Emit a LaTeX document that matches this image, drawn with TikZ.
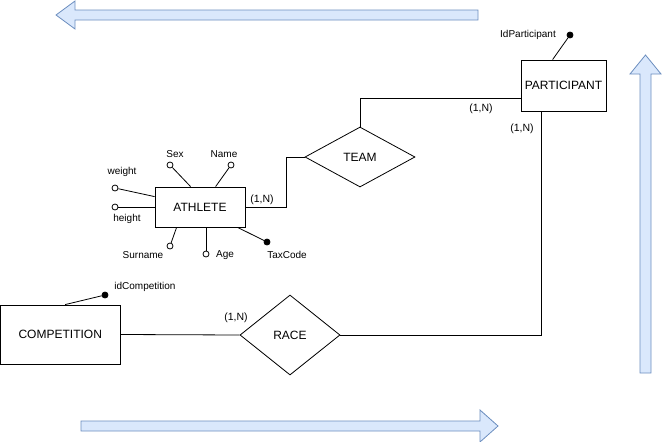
\documentclass[tikz,border=0pt]{standalone}
\usepackage{fontspec}
\setmainfont{Liberation Sans}
\usetikzlibrary{shapes.geometric, positioning}
\definecolor{arrowFill}{HTML}{DAE8FC}
\definecolor{arrowDraw}{HTML}{6C8EBF}
\tikzstyle{entNode} = [rectangle, draw=black, line width=0.8pt, fill=white, inner sep=0pt, font=\fontsize{12}{14}\selectfont, text centered]
\tikzstyle{relNode} = [diamond, aspect=1.6, draw=black, line width=0.8pt, fill=white, inner sep=0pt, font=\fontsize{12}{14}\selectfont]
\tikzstyle{attrDot} = [circle, draw=black, line width=0.8pt, fill=white, inner sep=0pt, minimum size=6pt]
\tikzstyle{keyDot} = [attrDot, fill=black]
\tikzstyle{attrText} = [font=\fontsize{10}{12}\selectfont, inner sep=0pt]
\tikzstyle{cardText} = [font=\fontsize{10.5}{12}\selectfont, inner sep=0pt]
\tikzstyle{link} = [line width=0.8pt, draw=black]
\tikzstyle{bigArrow} = [line width=0.8pt, draw=arrowDraw, fill=arrowFill]

\begin{document}
\begin{tikzpicture}[x=1pt, y=-1pt]
    \useasboundingbox (0,0) rectangle (662,442);

    % flow arrows
    \draw [bigArrow] (478,10) -- (75,10) -- (75,1) -- (56,15) -- (75,29) -- (75,20) -- (478,20) -- cycle;
    \draw [bigArrow] (640,373) -- (640,74) -- (630,74) -- (645.5,55) -- (661,74) -- (651,74) -- (651,373) -- cycle;
    \draw [bigArrow] (81,421) -- (480,421) -- (480,410) -- (498,426) -- (480,442) -- (480,431) -- (81,431) -- cycle;

    % entities and relationships
    \node (athlete) [entNode, minimum width=90pt, minimum height=40pt] at (200,207) {ATHLETE};
    \node (participant) [entNode, minimum width=85pt, minimum height=51pt] at (563.5,85.5) {PARTICIPANT};
    \node (competition) [entNode, minimum width=119.5pt, minimum height=59pt] at (60.25,334.5) {COMPETITION};
    \node (team) [relNode, minimum width=110pt, minimum height=60pt] at (360,157) {TEAM};
    \node (race) [relNode, minimum width=100pt, minimum height=80pt] at (290,335) {RACE};

    % attributes
    \node (sexDot) [attrDot] at (170,165) {};
    \node (nameDot) [attrDot] at (231,165) {};
    \node (weightDot) [attrDot] at (115,188) {};
    \node (heightDot) [attrDot] at (115,207) {};
    \node (surnameDot) [attrDot] at (170,246) {};
    \node (ageDot) [attrDot] at (206,254) {};
    \node (taxDot) [keyDot] at (267,242) {};
    \node (idPartDot) [keyDot] at (570,35) {};
    \node (idCompDot) [keyDot] at (105,295) {};

    \node [attrText] at (175,154) {Sex};
    \node [attrText] at (224,154) {Name};
    \node [attrText] at (122,172) {weight};
    \node [attrText] at (127,219) {height};
    \node [attrText] at (143,255) {Surname};
    \node [attrText] at (225,255) {Age};
    \node [attrText] at (287,255) {TaxCode};
    \node [attrText] at (528,35) {IdParticipant};
    \node [attrText] at (145,287) {idCompetition};

    \draw [link] (sexDot) -- ([xshift=36pt]athlete.north west);
    \draw [link] (nameDot) -- ([xshift=61pt]athlete.north west);
    \draw [link] (weightDot) -- ([yshift=-10pt]athlete.north west);
    \draw [link] (heightDot) -- (athlete.west);
    \draw [link] (surnameDot) -- ([xshift=22pt]athlete.south west);
    \draw [link] (ageDot) -- (ageDot |- athlete.south);
    \draw [link] (taxDot) -- ([xshift=83pt]athlete.south west);
    \draw [link] (idPartDot) -- ([xshift=32pt]participant.north west);
    \draw [link] (idCompDot) -- ([xshift=65pt]competition.north west);

    % relationship links
    \draw [link] (athlete.east) -| (286,157) -- (team.west);
    \draw [link] (team.north) |- ([yshift=-12.5pt]participant.west);
    \draw [link] (competition.east) -- (race.west);
    \draw [link] (race.east) -| ([xshift=21pt]participant.south west);

    \node [cardText] at (262,200) {(1,N)};
    \node [cardText] at (481,109) {(1,N)};
    \node [cardText] at (522,129) {(1,N)};
    \node [cardText] at (236,318) {(1,N)};
\end{tikzpicture}
\end{document}
